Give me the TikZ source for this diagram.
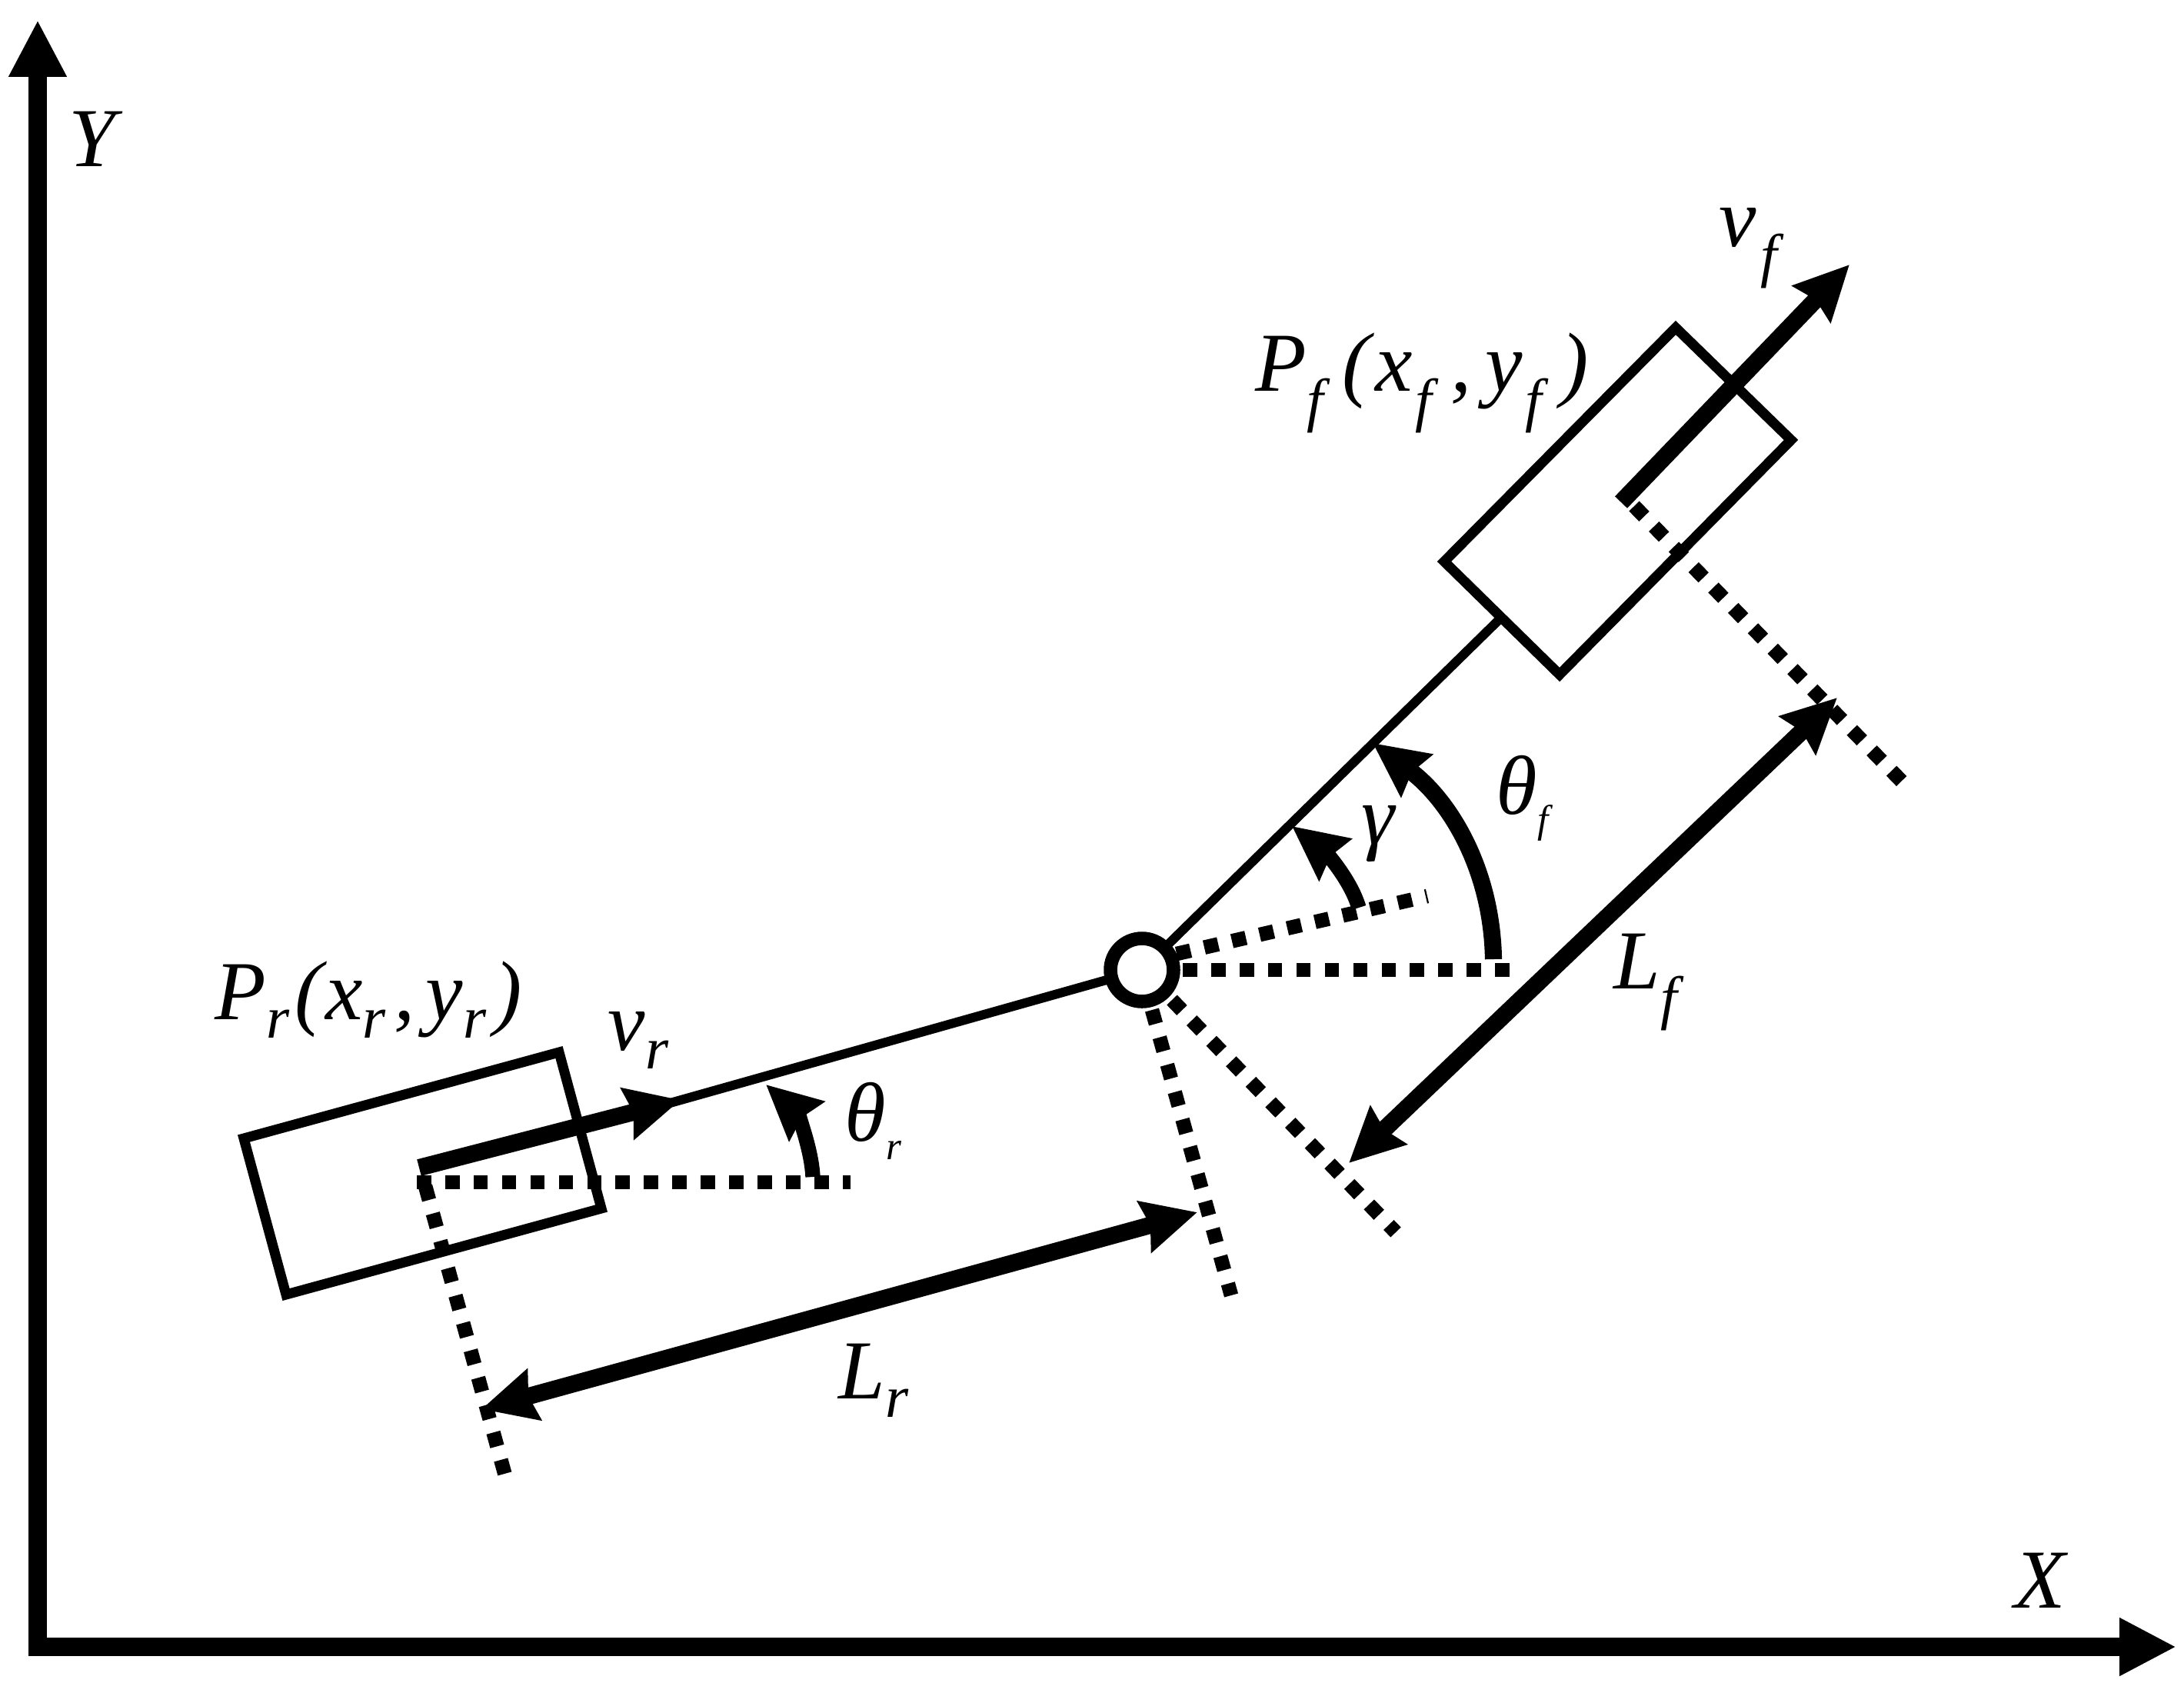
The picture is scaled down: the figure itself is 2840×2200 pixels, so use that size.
\documentclass[tikz,border=0pt]{standalone}
\usepackage{fontspec}
\setmainfont{Liberation Serif}
\usetikzlibrary{arrows.meta}
\newcommand{\lsubf}[1]{\raisebox{-11pt}{\fontsize{22pt}{22pt}\selectfont #1}}
\newcommand{\lsubr}[1]{\raisebox{-7pt}{\fontsize{22pt}{22pt}\selectfont #1}}
\newcommand{\tsub}[1]{\raisebox{-7pt}{\fontsize{14.5pt}{15pt}\selectfont #1}}
\tikzset{
  axistwo/.style={line width=7pt,{Triangle[length=21pt,width=20pt]}-{Triangle[length=21pt,width=20pt]},line join=miter},
  thinline/.style={line width=3.4pt},
  boxline/.style={line width=3.7pt,line join=miter},
  thickarrow/.style={line width=6.3pt,-{Stealth[length=20pt,width=19pt,inset=2pt]}},
  arcarrow/.style={line width=5.5pt,-{Stealth[length=20pt,width=19pt,inset=2pt]}},
  botharrow/.style={line width=6.3pt,{Stealth[length=20pt,width=19pt,inset=2pt]}-{Stealth[length=20pt,width=19pt,inset=2pt]}},
  dotline/.style={line width=5.3pt,dash pattern=on 5.3pt off 5.2pt},
  lab/.style={font=\fontsize{31pt}{36pt}\selectfont\itshape,inner sep=0pt},
}
\begin{document}
\begin{tikzpicture}[x=0.01cm,y=-0.01cm]
\useasboundingbox (0,0) rectangle (2840,2200);
\fill[white] (0,0) rectangle (2840,2200);
% coordinates
\coordinate (ytip) at (49,26);
\coordinate (corner) at (49,2141);
\coordinate (xtip) at (2830,2141);
\coordinate (hc) at (1485,1261);
\coordinate (r1) at (317,1480);
\coordinate (r2) at (727,1368);
\coordinate (r3) at (782,1571);
\coordinate (r4) at (372,1683);
\coordinate (f1) at (2179,426);
\coordinate (f2) at (2329,572);
\coordinate (f3) at (2028,877);
\coordinate (f4) at (1878,730);
\coordinate (fmid) at (1953,802);
\coordinate (rs) at (545,1518);
\coordinate (rt) at (885,1430);
\coordinate (rin) at (850,1440);
\coordinate (fs) at (2108,653);
\coordinate (ft) at (2405,344);
% dotted
\coordinate (rh1) at (542,1537);
\coordinate (rh2) at (1106,1537);
\coordinate (rd1) at (553,1542);
\coordinate (rd2) at (658,1922);
\coordinate (fd1) at (2125,658);
\coordinate (fd2) at (2477,1020);
\coordinate (h1) at (1538,1261);
\coordinate (h2) at (1970,1261);
\coordinate (g1) at (1530,1240);
\coordinate (g2) at (1856,1165);
\coordinate (dr1) at (1524,1300);
\coordinate (dr2) at (1815,1602);
\coordinate (dd1) at (1498,1313);
\coordinate (dd2) at (1601,1684);
% dimension arrows
\coordinate (lra) at (626,1832);
\coordinate (lrb) at (1557,1576);
\coordinate (lfa) at (1754,1512);
\coordinate (lfb) at (2389,907);
% arcs
\coordinate (tfa) at (1942,1247);
\coordinate (tfb) at (1785,966);
\coordinate (ga) at (1767,1180);
\coordinate (gb) at (1680,1074);
\coordinate (tra) at (1057,1530);
\coordinate (trb) at (996,1410);

\draw[dotline] (rh1) -- (rh2);
\draw[dotline] (rd1) -- (rd2);
\draw[dotline] (fd1) -- (fd2);
\draw[dotline] (h1) -- (h2);
\draw[dotline] (g1) -- (g2);
\draw[dotline] (dr1) -- (dr2);
\draw[dotline] (dd1) -- (dd2);

\draw[boxline] (r1) -- (r2) -- (r3) -- (r4) -- cycle;
\draw[boxline] (f1) -- (f2) -- (f3) -- (f4) -- cycle;
\draw[thinline] (hc) -- (fmid);
\draw[thinline] (hc) -- (rin);
\draw[thickarrow] (rs) -- (rt);
\draw[thickarrow] (fs) -- (ft);
\draw[botharrow] (lra) -- (lrb);
\draw[botharrow] (lfa) -- (lfb);
\draw[thickarrow] (tfa) .. controls (1940,1130) and (1885,1040) .. (tfb);
\draw[arcarrow] (ga) .. controls (1755,1140) and (1720,1105) .. (gb);
\draw[arcarrow] (tra) .. controls (1055,1490) and (1035,1445) .. (trb);

\node[circle,draw,fill=white,line width=5pt,minimum size=23.3pt,inner sep=0pt] (hinge) at (hc) {};

\draw[axistwo] (ytip) -- (corner) -- (xtip);

\node[lab] (ylab) at (120,181) {Y};
\node[lab] (xlab) at (2653,2055) {X};
\node[lab,anchor=base west] (vf) at (2235,320) {v\kern1.5pt\lsubf{f}};
\node[lab,anchor=base west] (pf) at (1632,508) {P\lsubf{f}\kern7pt(\kern2pt x\kern1pt\lsubf{f}\kern7pt,\kern5pt y\kern1pt\lsubf{f}\kern7pt)};
\node[lab,anchor=base west] (vr) at (790,1365) {v\lsubr{r}};
\node[lab,anchor=base west] (pr) at (279,1325) {P\lsubr{r}\kern2pt(\kern1pt x\lsubr{r}\kern3pt,\kern4pt y\lsubr{r}\kern3pt)};
\node[lab,anchor=base west] (tr) at (1098,1483) {θ\tsub{r}};
\node[lab,anchor=base west] (tf) at (1945,1058) {θ\tsub{f}};
\node[lab] (gm) at (1792,1084) {γ};
\node[lab,anchor=base west] (lf) at (2098,1285) {L\lsubf{f}};
\node[lab,anchor=base west] (lr) at (1090,1818) {L\lsubr{r}};
\end{tikzpicture}
\end{document}
